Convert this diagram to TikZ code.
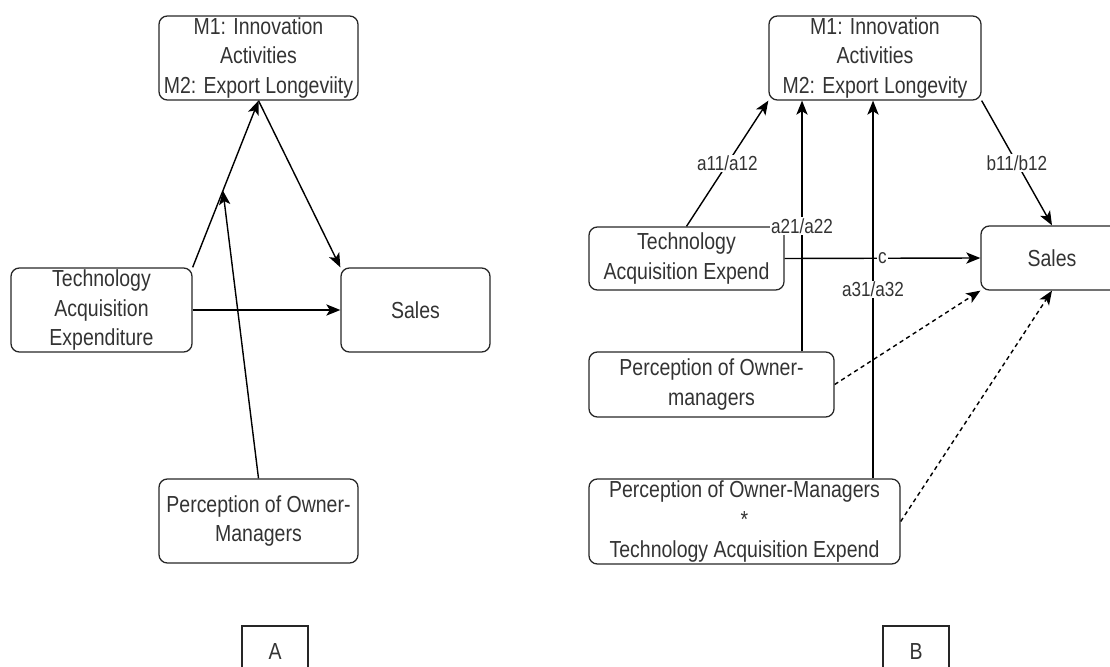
\documentclass[tikz,border=0pt]{standalone}
\usepackage{fontspec}
\setmainfont{Liberation Sans}[FakeStretch=0.84]
\usetikzlibrary{arrows.meta,positioning,calc}

\begin{document}
\begin{tikzpicture}[
    x=0.025cm, y=0.025cm,
    every node/.style={
        font=\fontsize{16.5}{21}\selectfont,
        text=black!80,
        align=center
    },
    box/.style={draw=black!85, rounded corners=6pt, line width=0.9pt, inner sep=0pt},
    tag/.style={draw=black!85, line width=0.9pt, inner sep=0pt,
        minimum width=1.65cm, minimum height=1.3cm},
    arr/.style={line width=1pt, -{Stealth[length=10pt,width=8pt,inset=2.5pt]}},
    lbl/.style={fill=white, inner sep=1pt, font=\fontsize{14.5}{17}\selectfont}
]
\useasboundingbox (0,0) rectangle (1110,666);

\node[box, minimum width=4.975cm, minimum height=2.1cm] (medA) at (258.5,608)
    {M1: Innovation\\Activities\\M2: Export Longeviity};
\node[box, minimum width=4.525cm, minimum height=2.1cm] (techA) at (101.5,356)
    {Technology\\Acquisition\\Expenditure};
\node[box, minimum width=3.725cm, minimum height=2.1cm] (salesA) at (415.5,356) {Sales};
\node[box, minimum width=4.975cm, minimum height=2.1cm] (percA) at (258.5,145)
    {Perception of Owner-\\Managers};
\node[tag] (tagA) at (275,14) {A};

\draw[arr] (techA.north east) -- coordinate[pos=0.46] (joinA) (medA.south);
\draw[arr] (medA.south) -- (salesA.north west);
\draw[arr] (techA.east) -- (salesA.west);
\draw[arr] (percA.north) -- (joinA);

\node[box, minimum width=5.3cm, minimum height=2.1cm] (medB) at (875,608)
    {M1: Innovation\\Activities\\M2: Export Longevity};
\node[box, minimum width=4.875cm, minimum height=1.575cm] (techB) at (686.5,407.5)
    {Technology\\Acquisition Expend};
\node[box, minimum width=3.55cm, minimum height=1.6cm] (salesB) at (1052,408) {Sales};
\node[box, minimum width=6.125cm, minimum height=1.625cm] (percB) at (711.5,281.5)
    {Perception of Owner-\\managers};
\node[box, minimum width=7.775cm, minimum height=2.125cm] (interB) at (744.5,144.5)
    {Perception of Owner-Managers\\*\\Technology Acquisition Expend};
\node[tag] (tagB) at (916,14) {B};

\coordinate (colA) at (802,0);
\coordinate (colB) at (873,0);

\draw[arr] (techB.north) -- node[lbl] {a11/a12} (medB.south west);
\draw[arr] (percB.north -| colA) -- node[lbl] {a21/a22} (medB.south -| colA);
\draw[arr] (interB.north -| colB) -- node[lbl] {a31/a32} (medB.south -| colB);
\draw[arr] (techB.east) -- node[lbl] {c} (salesB.west);
\draw[arr] (medB.south east) -- node[lbl] {b11/b12} (salesB.north);
\draw[arr, dash pattern=on 3pt off 2.5pt] (percB.east) -- (salesB.south west);
\draw[arr, dash pattern=on 3pt off 2.5pt] (interB.east) -- (salesB.south);
\end{tikzpicture}
\end{document}
